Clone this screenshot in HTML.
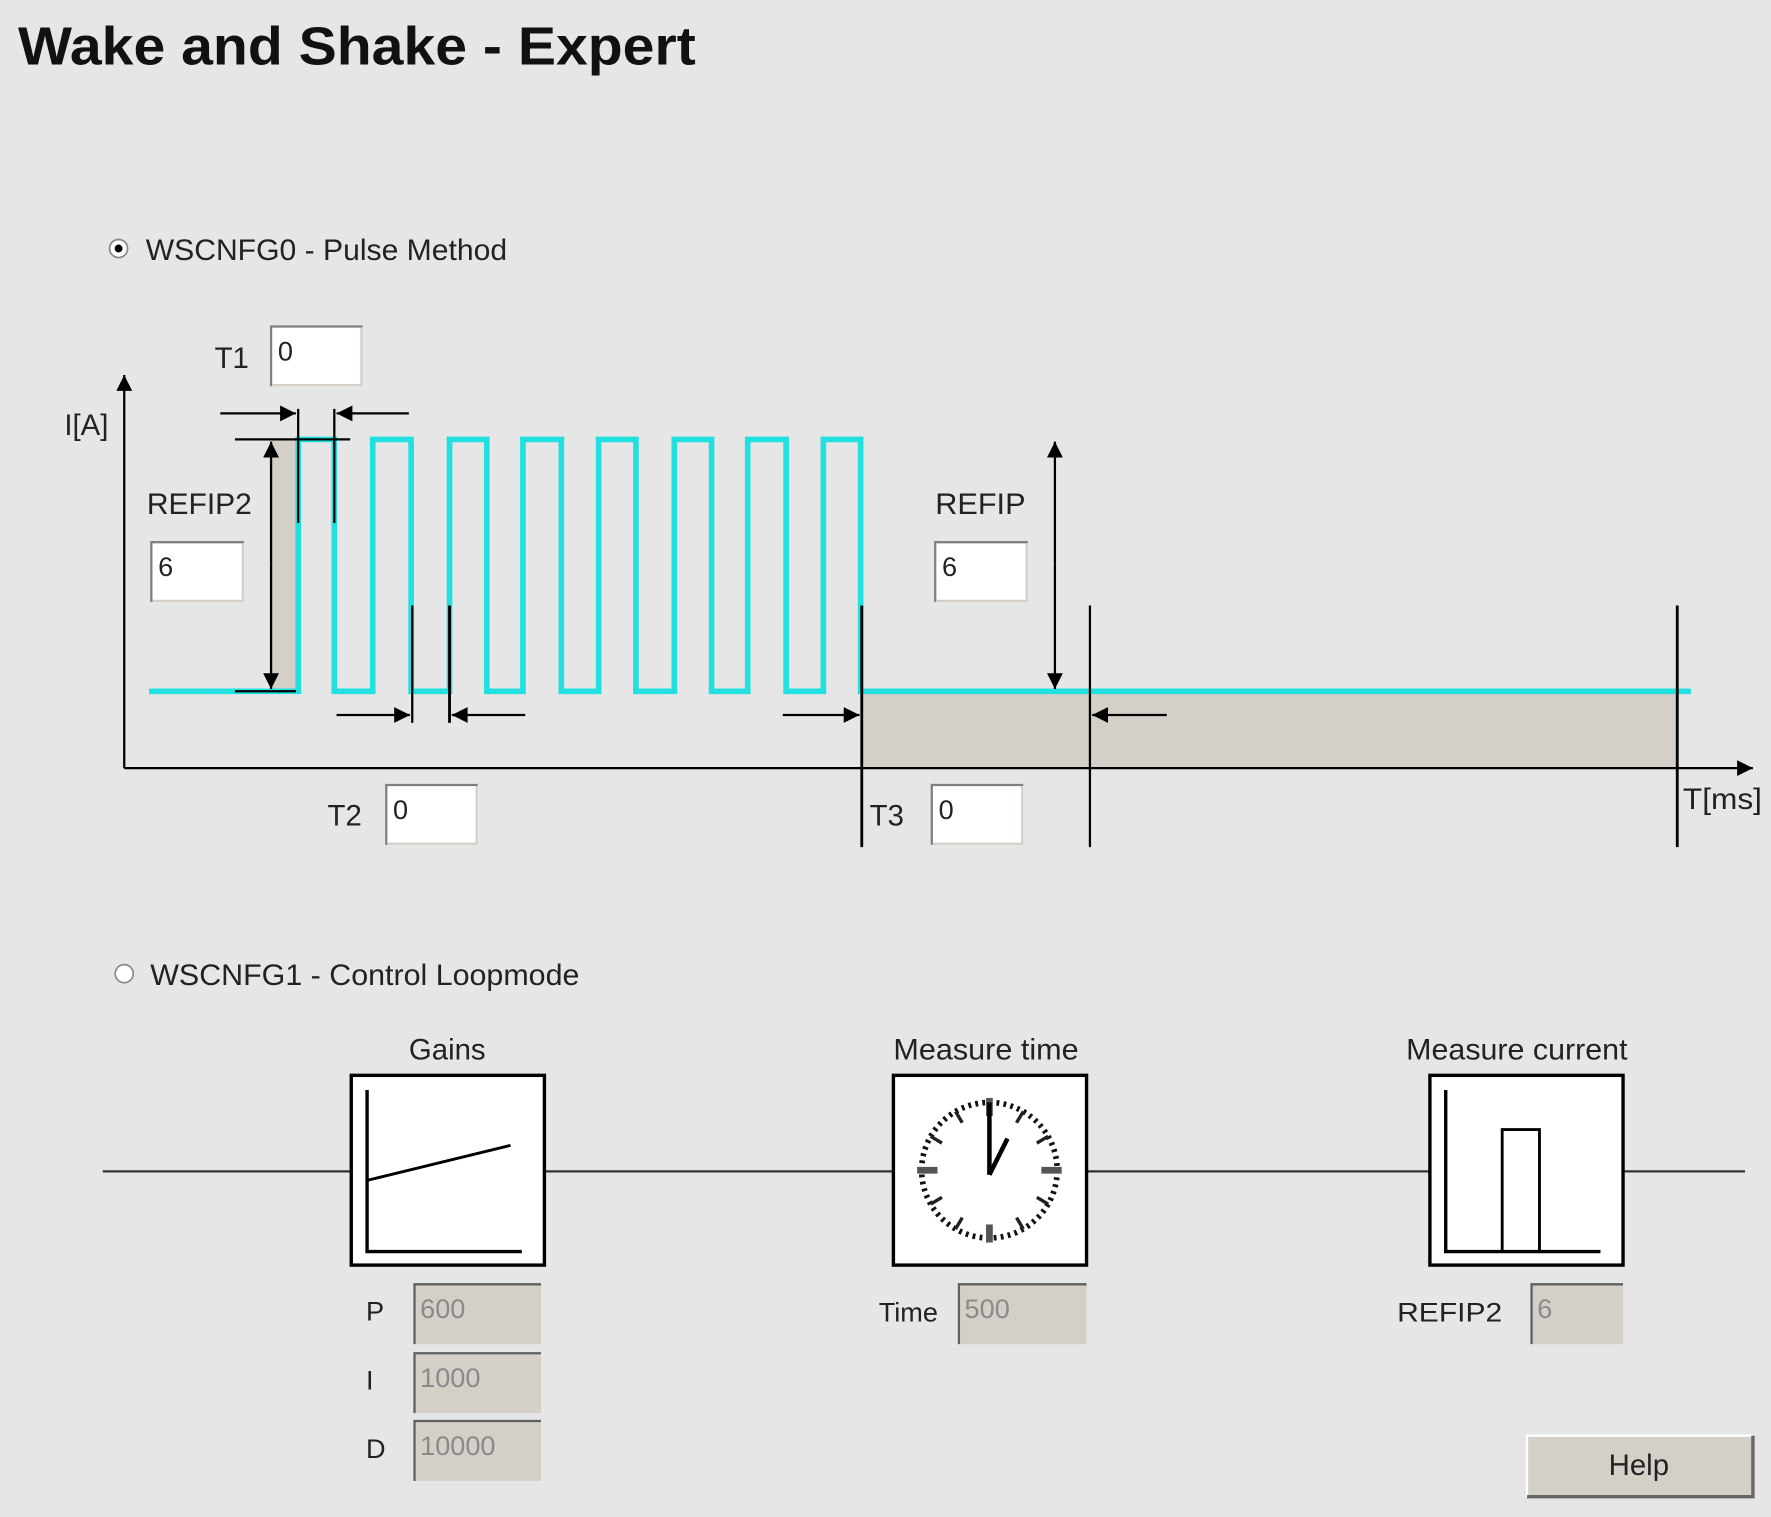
<!DOCTYPE html>
<html><head><meta charset="utf-8"><style>
html,body{margin:0;padding:0;background:#e6e6e6;}
svg{display:block;}
text{font-family:"Liberation Sans",sans-serif;fill:#222;}
</style></head><body>
<svg width="1771" height="1517" viewBox="0 0 1568 1343" preserveAspectRatio="none" xmlns="http://www.w3.org/2000/svg">
<defs>
<marker id="ah" viewBox="0 0 10 10" refX="10" refY="5" markerWidth="10" markerHeight="10" markerUnits="userSpaceOnUse" orient="auto-start-reverse"><path d="M0,0 L10,5 L0,10 Z" fill="#000"/></marker>
<marker id="ah2" viewBox="0 0 10 10" refX="10" refY="5" markerWidth="22" markerHeight="14" markerUnits="userSpaceOnUse" orient="auto-start-reverse"><path d="M0,0 L10,5 L0,10 Z" fill="#000"/></marker>
</defs>
<rect width="1568" height="1343" fill="#e6e6e6"/>
<text x="16" y="57" font-size="48" font-weight="bold" fill="#111" textLength="600" lengthAdjust="spacingAndGlyphs" style="fill:#111">Wake and Shake - Expert</text>

<!-- radio 1 -->
<circle cx="105" cy="220" r="8" fill="#fff" stroke="#888" stroke-width="1.5"/>
<circle cx="105" cy="220" r="3.5" fill="#000"/>
<text x="129" y="230" font-size="26" textLength="320" lengthAdjust="spacingAndGlyphs">WSCNFG0 - Pulse Method</text>

<!-- gray fills -->
<rect x="240" y="389" width="24" height="223" fill="#d4d0c8"/>
<rect x="763" y="612" width="722" height="68" fill="#d4d0c8"/>

<!-- axes -->
<line x1="110" y1="680" x2="110" y2="332" stroke="#000" stroke-width="2" marker-end="url(#ah2)"/>
<line x1="110" y1="680" x2="1552" y2="680" stroke="#000" stroke-width="2" marker-end="url(#ah2)"/>

<!-- waveform -->
<polyline fill="none" stroke="#22e0e0" stroke-width="5" points="132,612 264,612 264,389 296,389 296,612 330,612 330,389 364,389 364,612 398,612 398,389 431,389 431,612 463,612 463,389 497,389 497,612 530,612 530,389 563,389 563,612 597,612 597,389 630,389 630,612 662,612 662,389 696,389 696,612 729,612 729,389 762,389 762,612 1497,612"/>

<!-- T1 markers -->
<line x1="264" y1="362" x2="264" y2="463" stroke="#000" stroke-width="2"/>
<line x1="296" y1="362" x2="296" y2="463" stroke="#000" stroke-width="2"/>
<line x1="195" y1="366" x2="262" y2="366" stroke="#000" stroke-width="2" marker-end="url(#ah2)"/>
<line x1="362" y1="366" x2="298" y2="366" stroke="#000" stroke-width="2" marker-end="url(#ah2)"/>
<line x1="208" y1="389" x2="310" y2="389" stroke="#000" stroke-width="2"/>
<line x1="208" y1="612" x2="262" y2="612" stroke="#000" stroke-width="2"/>
<line x1="240" y1="500" x2="240" y2="391" stroke="#000" stroke-width="2" marker-end="url(#ah2)"/>
<line x1="240" y1="500" x2="240" y2="610" stroke="#000" stroke-width="2" marker-end="url(#ah2)"/>

<!-- T2 markers -->
<line x1="365" y1="536" x2="365" y2="640" stroke="#000" stroke-width="2"/>
<line x1="398" y1="536" x2="398" y2="640" stroke="#000" stroke-width="2.5"/>
<line x1="298" y1="633" x2="363" y2="633" stroke="#000" stroke-width="2" marker-end="url(#ah2)"/>
<line x1="465" y1="633" x2="400" y2="633" stroke="#000" stroke-width="2" marker-end="url(#ah2)"/>

<!-- T3 markers -->
<line x1="763" y1="536" x2="763" y2="750" stroke="#000" stroke-width="2.5"/>
<line x1="693" y1="633" x2="761" y2="633" stroke="#000" stroke-width="2" marker-end="url(#ah2)"/>
<line x1="965" y1="536" x2="965" y2="750" stroke="#000" stroke-width="2"/>
<line x1="1033" y1="633" x2="967" y2="633" stroke="#000" stroke-width="2" marker-end="url(#ah2)"/>
<line x1="1485" y1="536" x2="1485" y2="750" stroke="#000" stroke-width="2.5"/>
<line x1="934" y1="500" x2="934" y2="391" stroke="#000" stroke-width="2" marker-end="url(#ah2)"/>
<line x1="934" y1="500" x2="934" y2="610" stroke="#000" stroke-width="2" marker-end="url(#ah2)"/>

<!-- labels -->
<g font-size="26">
<text x="190" y="326">T1</text>
<text x="57" y="385">I[A]</text>
<text x="130" y="455" textLength="93" lengthAdjust="spacingAndGlyphs">REFIP2</text>
<text x="828" y="455" textLength="80" lengthAdjust="spacingAndGlyphs">REFIP</text>
<text x="290" y="731">T2</text>
<text x="770" y="731">T3</text>
<text x="1490" y="716" textLength="70" lengthAdjust="spacingAndGlyphs">T[ms]</text>
</g>

<!-- white input boxes -->
<g font-size="24">
<g transform="translate(240,289)"><rect width="81" height="53" fill="#fff"/><path d="M0,53 V0 H81" fill="none" stroke="#808080" stroke-width="2"/><path d="M1,52 H80 V1" fill="none" stroke="#d4d0c8" stroke-width="2"/><text x="6" y="30">0</text></g>
<g transform="translate(134,480)"><rect width="82" height="53" fill="#fff"/><path d="M0,53 V0 H82" fill="none" stroke="#808080" stroke-width="2"/><path d="M1,52 H81 V1" fill="none" stroke="#d4d0c8" stroke-width="2"/><text x="6" y="30">6</text></g>
<g transform="translate(828,480)"><rect width="82" height="53" fill="#fff"/><path d="M0,53 V0 H82" fill="none" stroke="#808080" stroke-width="2"/><path d="M1,52 H81 V1" fill="none" stroke="#d4d0c8" stroke-width="2"/><text x="6" y="30">6</text></g>
<g transform="translate(342,695)"><rect width="81" height="53" fill="#fff"/><path d="M0,53 V0 H81" fill="none" stroke="#808080" stroke-width="2"/><path d="M1,52 H80 V1" fill="none" stroke="#d4d0c8" stroke-width="2"/><text x="6" y="30">0</text></g>
<g transform="translate(825,695)"><rect width="81" height="53" fill="#fff"/><path d="M0,53 V0 H81" fill="none" stroke="#808080" stroke-width="2"/><path d="M1,52 H80 V1" fill="none" stroke="#d4d0c8" stroke-width="2"/><text x="6" y="30">0</text></g>
</g>

<!-- radio 2 -->
<circle cx="110" cy="862" r="8" fill="#fff" stroke="#888" stroke-width="1.5"/>
<text x="133" y="872" font-size="26" textLength="380" lengthAdjust="spacingAndGlyphs">WSCNFG1 - Control Loopmode</text>

<!-- control loop line -->
<line x1="91" y1="1037" x2="1545" y2="1037" stroke="#333" stroke-width="2"/>

<g font-size="26">
<text x="396" y="938" text-anchor="middle">Gains</text>
<text x="873" y="938" text-anchor="middle" textLength="164" lengthAdjust="spacingAndGlyphs">Measure time</text>
<text x="1343" y="938" text-anchor="middle" textLength="196" lengthAdjust="spacingAndGlyphs">Measure current</text>
</g>

<!-- Gains box -->
<rect x="311" y="952" width="171" height="168" fill="#fff" stroke="#000" stroke-width="3"/>
<polyline points="325,965 325,1108 462,1108" fill="none" stroke="#000" stroke-width="3"/>
<line x1="325" y1="1045" x2="452" y2="1014" stroke="#000" stroke-width="2.5"/>

<!-- Clock box -->
<rect x="791" y="952" width="171" height="168" fill="#fff" stroke="#000" stroke-width="3"/>
<circle cx="876" cy="1036" r="60" fill="none" stroke="#111" stroke-width="5" stroke-dasharray="2.5 3.78"/>
<g stroke="#555" stroke-width="6">
<line x1="876" y1="972" x2="876" y2="988"/>
<line x1="876" y1="1084" x2="876" y2="1100"/>
<line x1="812" y1="1036" x2="830" y2="1036"/>
<line x1="922" y1="1036" x2="940" y2="1036"/>
</g>
<g stroke="#222" stroke-width="3">
<line x1="906" y1="984" x2="900" y2="994"/><line x1="928" y1="1006" x2="918" y2="1012"/>
<line x1="928" y1="1066" x2="918" y2="1060"/><line x1="906" y1="1088" x2="900" y2="1078"/>
<line x1="846" y1="1088" x2="852" y2="1078"/><line x1="824" y1="1066" x2="834" y2="1060"/>
<line x1="824" y1="1006" x2="834" y2="1012"/><line x1="846" y1="984" x2="852" y2="994"/>
</g>
<line x1="876" y1="1040" x2="876" y2="976" stroke="#000" stroke-width="4"/>
<line x1="876" y1="1040" x2="892" y2="1008" stroke="#000" stroke-width="4"/>

<!-- Current box -->
<rect x="1266" y="952" width="171" height="168" fill="#fff" stroke="#000" stroke-width="3"/>
<polyline points="1280,965 1280,1108 1417,1108" fill="none" stroke="#000" stroke-width="3"/>
<polyline points="1330,1108 1330,1000 1363,1000 1363,1108" fill="none" stroke="#000" stroke-width="2.5"/>

<!-- gray inputs -->
<g font-size="24">
<text x="324" y="1169">P</text>
<text x="324" y="1230">I</text>
<text x="324" y="1291">D</text>
<text x="778" y="1170">Time</text>
<text x="1237" y="1170" textLength="93" lengthAdjust="spacingAndGlyphs">REFIP2</text>
<g style="fill:#8a8a8a">
<g transform="translate(367,1137)"><rect width="112" height="53" fill="#d4d0c8"/><path d="M0,53 V0 H112" fill="none" stroke="#606060" stroke-width="2"/><text x="5" y="30" style="fill:#8a8a8a">600</text></g>
<g transform="translate(367,1198)"><rect width="112" height="53" fill="#d4d0c8"/><path d="M0,53 V0 H112" fill="none" stroke="#606060" stroke-width="2"/><text x="5" y="30" style="fill:#8a8a8a">1000</text></g>
<g transform="translate(367,1258)"><rect width="112" height="53" fill="#d4d0c8"/><path d="M0,53 V0 H112" fill="none" stroke="#606060" stroke-width="2"/><text x="5" y="30" style="fill:#8a8a8a">10000</text></g>
<g transform="translate(849,1137)"><rect width="113" height="53" fill="#d4d0c8"/><path d="M0,53 V0 H113" fill="none" stroke="#606060" stroke-width="2"/><text x="5" y="30" style="fill:#8a8a8a">500</text></g>
<g transform="translate(1356,1137)"><rect width="81" height="53" fill="#d4d0c8"/><path d="M0,53 V0 H81" fill="none" stroke="#606060" stroke-width="2"/><text x="5" y="30" style="fill:#8a8a8a">6</text></g>
</g>
</g>

<!-- Help button -->
<rect x="1352" y="1271" width="200" height="54" fill="#d4d0c8"/>
<path d="M1352,1325 V1271 H1552" fill="none" stroke="#fff" stroke-width="2"/>
<path d="M1352,1325 H1552 V1271" fill="none" stroke="#666" stroke-width="3"/>
<text x="1451" y="1306" font-size="26" text-anchor="middle">Help</text>
</svg>
</body></html>
